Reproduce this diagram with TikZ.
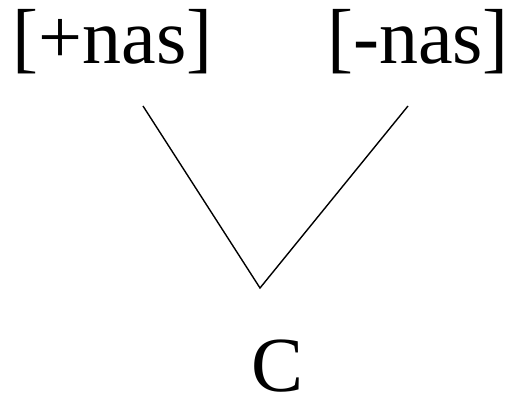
\documentclass[tikz,border=0pt]{standalone}
\usepackage{fontspec}
\setmainfont{Liberation Serif}
\begin{document}
\begin{tikzpicture}[x=1pt,y=1pt,
  lbl/.style={inner sep=0pt, anchor=base, font=\fontsize{78}{78}\selectfont},
  branch/.style={line width=1.4pt}]
\useasboundingbox (0,0) rectangle (513,398);
\node[lbl] (plus) at (112.5,334) {[+nas]};
\node[lbl] (minus) at (418,334) {[-nas]};
\node[lbl] (c) at (277.5,6) {C};
\coordinate (p1) at (143,292);
\coordinate (p2) at (408,292);
\coordinate (v) at (260,110);
\draw[branch] (p1) -- (v) -- (p2);
\end{tikzpicture}
\end{document}
